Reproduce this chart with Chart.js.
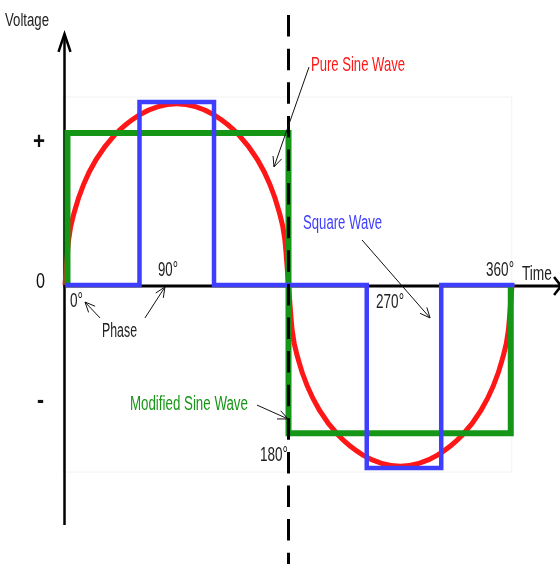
<!DOCTYPE html>
<html>
<head>
<meta charset="utf-8">
<script src="https://cdn.jsdelivr.net/npm/chart.js@4.4.1/dist/chart.umd.min.js"></script>
<style>
  html, body { margin: 0; padding: 0; background: #fff; }
  canvas { display: block; }
</style>
</head>
<body>
<canvas id="waves" width="560" height="564"></canvas>
<script>
// Phase in degrees, voltage normalised to the square wave peak (= 1)

// Pure sine wave (red), as drawn in the picture
const sineDeg = [0, 3, 8, 15, 25, 40, 60, 75, 90, 105, 120, 140, 155, 165, 172, 177, 180,
  183, 188, 195, 205, 220, 240, 255, 270, 285, 300, 320, 335, 345, 352, 357, 360];
const sineV = [0, 0.25, 0.41, 0.55, 0.685, 0.82, 0.93, 0.975, 0.99, 0.975, 0.93, 0.82, 0.685, 0.55, 0.41, 0.25, 0,
  -0.25, -0.41, -0.55, -0.685, -0.82, -0.93, -0.975, -0.99, -0.975, -0.93, -0.82, -0.685, -0.55, -0.41, -0.25, 0];

// Square wave (blue)
const squareDeg = [0, 60, 60, 120, 120, 243, 243, 303, 303, 362];
const squareV = [0, 0, 1, 1, 0, 0, -1, -1, 0, 0];

// Modified sine wave (green)
const modDeg = [2, 2, 180, 180, 359, 359];
const modV = [0, 0.83, 0.83, -0.81, -0.81, 0];

// 180° marker (dashed)
const markerDeg = [180, 180];
const markerV = [1.475, -1.53];

const zip = (xs, ys) => xs.map((x, i) => ({ x, y: ys[i] }));

const RED = 'rgb(255,22,22)';
const BLUE = 'rgb(62,62,255)';
const GREEN = 'rgb(22,150,22)';

// ── Decorations: axes, arrows, labels ──
const decor = {
  id: 'decor',
  beforeDatasetsDraw(chart) {
    const ctx = chart.ctx;
    const X = v => chart.scales.x.getPixelForValue(v);
    const Y = v => chart.scales.y.getPixelForValue(v);
    ctx.save();
    // faint frame
    ctx.strokeStyle = '#f2f2f2';
    ctx.lineWidth = 1;
    ctx.strokeRect(X(-1.6), Y(1.027), X(359.8) - X(-1.6), Y(-1.022) - Y(1.027));

    ctx.strokeStyle = '#000';
    ctx.lineCap = 'butt';
    // vertical axis
    ctx.lineWidth = 2.5;
    ctx.beginPath();
    ctx.moveTo(X(0) - 0.5, Y(1.372));
    ctx.lineTo(X(0) - 0.5, Y(-1.311));
    ctx.stroke();
    ctx.beginPath();
    ctx.moveTo(X(0) - 6.5, Y(1.372) + 18);
    ctx.lineTo(X(0) - 0.5, Y(1.372));
    ctx.lineTo(X(0) + 5.5, Y(1.372) + 18);
    ctx.stroke();
    // horizontal axis
    ctx.lineWidth = 3;
    const ya = Y(0) + 1;
    ctx.beginPath();
    ctx.moveTo(X(0) - 1.5, ya);
    ctx.lineTo(X(399.5), ya);
    ctx.stroke();
    ctx.lineWidth = 2.5;
    ctx.beginPath();
    ctx.moveTo(X(399.5) - 7, ya - 9);
    ctx.lineTo(X(399.5), ya);
    ctx.lineTo(X(399.5) - 7, ya + 9);
    ctx.stroke();
    ctx.restore();
  },
  afterDatasetsDraw(chart) {
    const ctx = chart.ctx;
    const X = v => chart.scales.x.getPixelForValue(v);
    const Y = v => chart.scales.y.getPixelForValue(v);
    ctx.save();

    // thin pointer arrows
    const arrows = [
      [196.5, 1.191, 168.3, 0.645],
      [239.2, 0.246, 294.0, -0.180],
      [154.6, -0.656, 179.6, -0.732],
      [28.2, -0.180, 16.1, -0.093],
      [64.4, -0.180, 80.5, -0.011]
    ];
    ctx.strokeStyle = '#111';
    ctx.lineWidth = 1;
    arrows.forEach(([x0, y0, x1, y1]) => {
      const ax = X(x0), ay = Y(y0), bx = X(x1), by = Y(y1);
      const a = Math.atan2(by - ay, bx - ax);
      ctx.beginPath();
      ctx.moveTo(ax, ay);
      ctx.lineTo(bx, by);
      ctx.moveTo(bx - 11 * Math.cos(a - 0.42), by - 11 * Math.sin(a - 0.42));
      ctx.lineTo(bx, by);
      ctx.lineTo(bx - 11 * Math.cos(a + 0.42), by - 11 * Math.sin(a + 0.42));
      ctx.stroke();
    });

    // labels, squeezed to the narrow face of the original
    const texts = [
      { t: 'Voltage', x: -48.3, y: 1.448, w: 44, s: 18, c: '#222' },
      { t: 'Pure Sine Wave', x: 198.1, y: 1.213, w: 94, s: 21, c: RED },
      { t: 'Square Wave', x: 191.7, y: 0.344, w: 79, s: 20, c: BLUE },
      { t: 'Modified Sine Wave', x: 52.3, y: -0.645, w: 118, s: 20, c: GREEN },
      { t: 'Phase', x: 29.8, y: -0.246, w: 35, s: 20, c: '#222' },
      { t: '0°', x: 4.0, y: -0.082, w: 13, s: 20, c: '#222' },
      { t: '90°', x: 74.9, y: 0.087, w: 20, s: 20, c: '#222' },
      { t: '180°', x: 157.0, y: -0.918, w: 28, s: 21, c: '#222' },
      { t: '270°', x: 250.5, y: -0.082, w: 28, s: 21, c: '#222' },
      { t: '360°', x: 339.1, y: 0.093, w: 28, s: 21, c: '#222' },
      { t: 'Time', x: 368.0, y: 0.066, w: 30, s: 20, c: '#222' },
      { t: '+', x: -25.8, y: 0.792, w: 12, s: 24, c: '#111', b: true },
      { t: '0', x: -23.4, y: 0.027, w: 9, s: 22, c: '#111' },
      { t: '-', x: -22.5, y: -0.623, w: 7, s: 26, c: '#111', b: true }
    ];
    ctx.textAlign = 'left';
    ctx.textBaseline = 'alphabetic';
    texts.forEach(o => {
      ctx.font = (o.b ? 'bold ' : '') + o.s + 'px "Liberation Sans", Arial, sans-serif';
      const mw = ctx.measureText(o.t).width;
      const sx = o.w / mw;
      ctx.save();
      ctx.translate(X(o.x), Y(o.y) + o.s * 0.36);
      ctx.scale(sx, 1);
      ctx.fillStyle = o.c;
      ctx.fillText(o.t, 0, 0);
      ctx.restore();
    });
    ctx.restore();
  }
};

new Chart(document.getElementById('waves'), {
  type: 'line',
  data: {
    datasets: [
      {
        label: '180°',
        data: zip(markerDeg, markerV),
        borderColor: '#000',
        borderWidth: 3,
        borderDash: [21.5, 12.1],
        pointRadius: 0,
        order: 0
      },
      {
        label: 'Square Wave',
        data: zip(squareDeg, squareV),
        borderColor: BLUE,
        borderWidth: 4.5,
        borderJoinStyle: 'miter',
        pointRadius: 0,
        tension: 0,
        order: 1
      },
      {
        label: 'Modified Sine Wave',
        data: zip(modDeg, modV),
        borderColor: GREEN,
        borderWidth: 6,
        borderJoinStyle: 'miter',
        pointRadius: 0,
        tension: 0,
        order: 2
      },
      {
        label: 'Pure Sine Wave',
        data: zip(sineDeg, sineV),
        borderColor: RED,
        borderWidth: 5,
        cubicInterpolationMode: 'monotone',
        pointRadius: 0,
        order: 3
      }
    ]
  },
  options: {
    responsive: false,
    animation: false,
    events: [],
    layout: { padding: 0 },
    plugins: { legend: { display: false }, tooltip: { enabled: false } },
    scales: {
      x: { type: 'linear', min: -52.35, max: 398.65, display: false },
      y: { type: 'linear', min: -1.5246, max: 1.5574, display: false }
    }
  },
  plugins: [decor]
});
</script>
</body>
</html>
